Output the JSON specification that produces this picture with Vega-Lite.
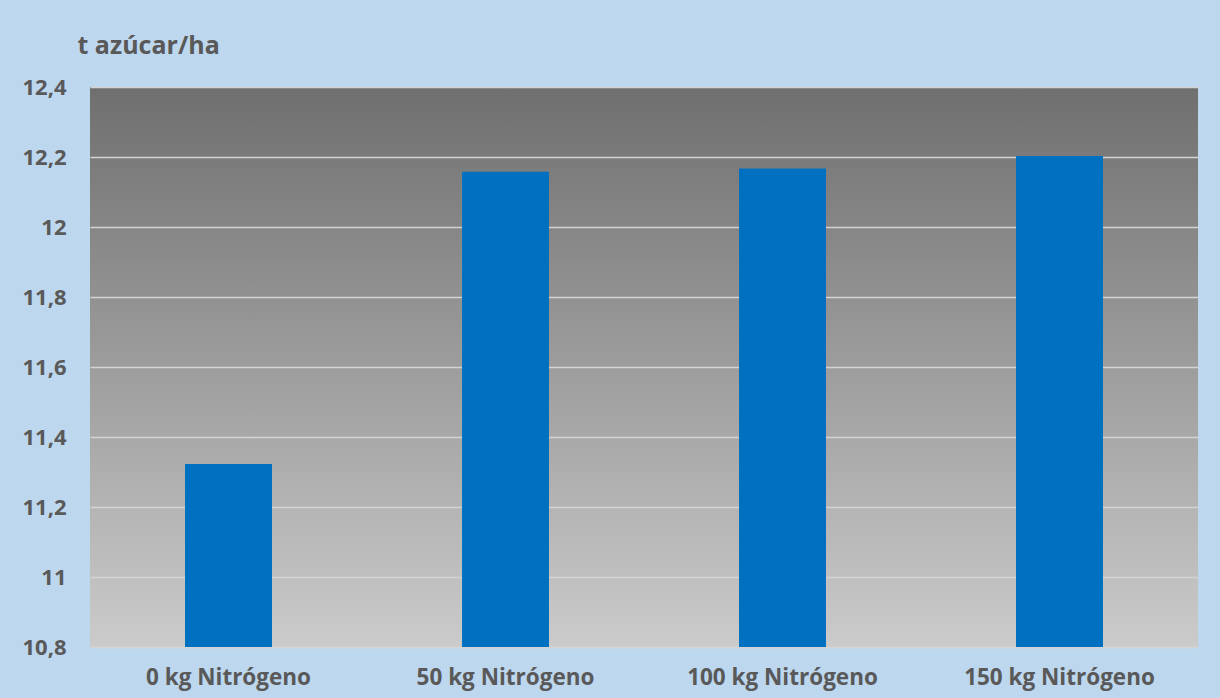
{
  "$schema": "https://vega.github.io/schema/vega-lite/v6.json",
  "width": 1108,
  "height": 560,
  "autosize": {"type": "none"},
  "padding": {"left": 90, "top": 87, "right": 22, "bottom": 51},
  "background": "#BDD7EE",
  "config": {
    "locale": {"number": {"decimal": ",", "thousands": ".", "grouping": [3], "currency": ["", " €"]}},
    "font": "Open Sans",
    "view": {
      "stroke": null,
      "fill": {"gradient": "linear", "x1": 0, "y1": 0, "x2": 0, "y2": 1,
        "stops": [{"offset": 0, "color": "#6f6f6f"}, {"offset": 1, "color": "#cbcbcb"}]}
    }
  },
  "data": {
    "values": [
      {"trat": "0 kg Nitrógeno", "valor": 11.323},
      {"trat": "50 kg Nitrógeno", "valor": 12.158},
      {"trat": "100 kg Nitrógeno", "valor": 12.167},
      {"trat": "150 kg Nitrógeno", "valor": 12.203}
    ]
  },
  "mark": {"type": "bar", "color": "#0070C0", "clip": true},
  "encoding": {
    "x": {
      "field": "trat", "type": "nominal", "sort": null,
      "scale": {"paddingInner": 0.686, "paddingOuter": 0.343},
      "axis": {
        "title": null, "labelAngle": 0, "domain": false, "ticks": false,
        "labelFont": "Open Sans", "labelFontSize": 22.5, "labelFontWeight": "bold",
        "labelColor": "#595959", "labelPadding": 30, "labelBaseline": "middle",
        "labelLimit": 400, "labelOverlap": false
      }
    },
    "y": {
      "field": "valor", "type": "quantitative",
      "scale": {"domain": [10.8, 12.4], "zero": false, "nice": false},
      "axis": {
        "values": [10.8, 11, 11.2, 11.4, 11.6, 11.8, 12, 12.2, 12.4],
        "format": ".1~f",
        "title": "t azúcar/ha", "titleAngle": 0, "titleAlign": "left",
        "titleBaseline": "middle", "titleX": -13, "titleY": -42,
        "titleFont": "Open Sans", "titleFontSize": 25, "titleFontWeight": "bold", "titleColor": "#595959",
        "domain": false, "ticks": false,
        "labelFont": "Open Sans", "labelFontSize": 22, "labelFontWeight": "bold",
        "labelColor": "#595959", "labelPadding": 24,
        "grid": true, "gridColor": "#d4d4d4", "gridWidth": 1.5
      }
    }
  }
}
